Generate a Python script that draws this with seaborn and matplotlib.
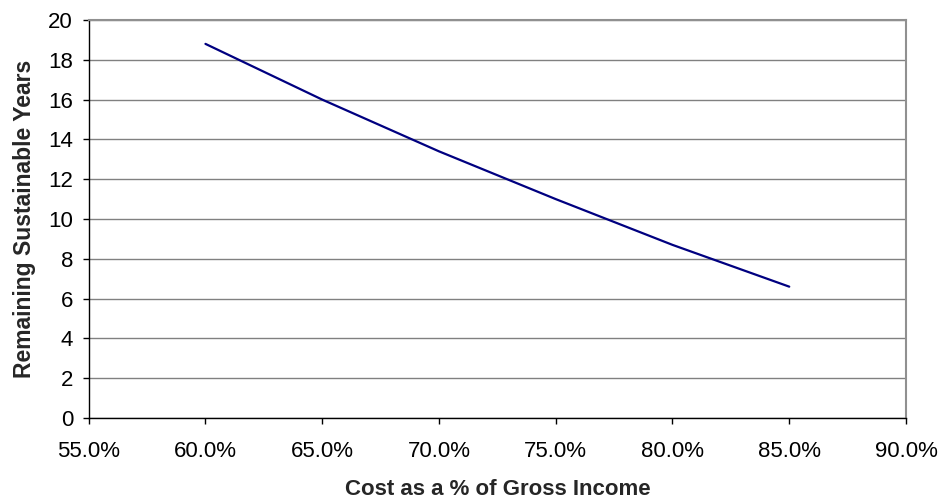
import matplotlib
matplotlib.use("Agg")
import matplotlib.pyplot as plt
import matplotlib.ticker as mticker
import seaborn as sns
import pandas as pd

# Cost ratio (fraction of gross income) and the remaining sustainable years
cost_ratio = [0.60, 0.65, 0.70, 0.75, 0.80, 0.85]
remaining_years = [18.8, 16.0, 13.4, 11.0, 8.7, 6.6]

x_label = "Cost as a % of Gross Income"
y_label = "Remaining Sustainable Years"

sns.set_theme(style="white")
plt.rcParams["font.family"] = ["Liberation Sans", "DejaVu Sans"]

df = pd.DataFrame({"cost": cost_ratio, "years": remaining_years})

fig = plt.figure(figsize=(9.41, 5.0), dpi=100)
ax = fig.add_axes([88.7 / 941, 1 - 418 / 500, (906 - 88.7) / 941, (418 - 20) / 500])

sns.lineplot(data=df, x="cost", y="years", ax=ax, color="#000080", linewidth=1.6)

ax.set_xlim(0.55, 0.90)
ax.set_ylim(0, 20)
ax.xaxis.set_major_locator(mticker.MultipleLocator(0.05))
ax.yaxis.set_major_locator(mticker.MultipleLocator(2))
ax.xaxis.set_major_formatter(mticker.FuncFormatter(lambda v, p: f"{v * 100:.1f}%"))

ax.grid(axis="y", color="#808080", linewidth=1.0)
ax.grid(axis="x", visible=False)
ax.set_axisbelow(True)

for side in ("left", "bottom"):
    ax.spines[side].set_color("black")
    ax.spines[side].set_linewidth(1.0)
for side in ("top", "right"):
    ax.spines[side].set_color("#909090")
    ax.spines[side].set_linewidth(1.5)

ax.tick_params(axis="both", which="major", direction="out", length=4.3, width=1.0,
               color="black", labelsize=16, labelcolor="black",
               bottom=True, left=True)
ax.tick_params(axis="x", pad=12)
ax.tick_params(axis="y", pad=7)

ax.set_xlabel(x_label, fontsize=16, fontweight="bold", labelpad=12.5)
ax.set_ylabel(y_label, fontsize=16.5, fontweight="bold", labelpad=9)

fig.savefig("out.png", dpi=100, facecolor="white")
